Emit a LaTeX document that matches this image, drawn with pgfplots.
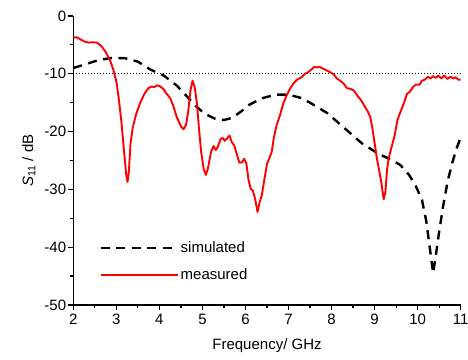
\documentclass[border=0pt]{standalone}
\usepackage{fontspec}
\setmainfont{Liberation Sans}
\usepackage{pgfplots}
\pgfplotsset{compat=1.18}

\begin{document}
\begin{tikzpicture}
\begin{axis}[
  name=ax,
  scale only axis,
  width=387.4pt, height=289pt,
  xmin=2, xmax=11, ymin=-50, ymax=0,
  axis x line*=bottom, axis y line*=left,
  axis line style={-, line width=1.2pt},
  xtick={2,...,11}, ytick={-50,-40,...,0},
  minor x tick num=1, minor y tick num=1,
  tick align=outside,
  major tick length=5.5pt, minor tick length=3.5pt,
  every tick/.style={line width=1.2pt, black},
  font=\fontsize{15}{18}\selectfont,
  ticklabel style={font=\fontsize{15}{18}\selectfont},
  yticklabel style={inner xsep=1.5pt},
  /pgf/number format/assume math mode=true,
  xlabel={Frequency/ GHz},
  ylabel={\textit{S}\textsubscript{11} / dB},
  xlabel shift=7pt,
  ylabel shift=4pt,
  legend style={draw=none, fill=none, at={(axis cs:2.53,-38.3)}, anchor=north west,
    font=\fontsize{15}{18}\selectfont, row sep=11pt},
  legend cell align=left,
  legend image code/.code={\draw[#1] (0pt,0pt) -- (63pt,0pt);
    \path (0pt,0pt) -- (77pt,0pt);},
  clip=false,
]
% reference level at -10 dB
\addplot[black, line width=0.9pt, dash pattern=on 1pt off 2pt, forget plot]
  coordinates {(2,-10) (11,-10)};

% simulated response
\addplot[black, line width=2.4pt, dash pattern=on 9pt off 6.5pt] coordinates {
(2.0,-9.0) (2.3,-8.3) (2.6,-7.6) (2.9,-7.25) (3.2,-7.3) (3.5,-7.9) (3.8,-9.3)
(4.1,-10.3) (4.4,-12.0) (4.65,-14.0) (4.85,-15.6) (5.05,-16.9) (5.3,-17.8)
(5.5,-18.0) (5.7,-17.6) (5.9,-16.5) (6.1,-15.3) (6.4,-14.2) (6.7,-13.6)
(7.0,-13.6) (7.3,-14.2) (7.5,-15.0) (7.9,-16.8) (8.3,-19.4) (8.7,-22.0)
(9.1,-23.9) (9.4,-24.9) (9.6,-25.8) (9.8,-27.5) (9.95,-29.3) (10.1,-31.8)
(10.2,-35.5) (10.28,-40) (10.36,-44.5) (10.42,-41.5) (10.5,-37.3) (10.6,-32.5)
(10.7,-28.5) (10.8,-25.5) (10.9,-23.0) (11.0,-21.0)
};
\addlegendentry{simulated}

% measured response
\addplot[red, line width=1.9pt, line join=round] coordinates {
(2.0,-3.7) (2.08,-3.7) (2.16,-4.0) (2.25,-4.4) (2.35,-4.6) (2.45,-4.55) (2.55,-4.6)
(2.65,-5.2) (2.75,-6.2) (2.85,-7.6) (2.93,-9.3) (3.0,-11.3) (3.06,-14.5)
(3.12,-18.5) (3.18,-23.5) (3.23,-27.5) (3.26,-28.7) (3.29,-27) (3.33,-22)
(3.38,-19.3) (3.46,-17.0) (3.55,-15.1) (3.65,-13.5) (3.74,-12.5) (3.82,-12.2)
(3.88,-12.3) (3.94,-12.0) (4.0,-12.1) (4.09,-12.6) (4.17,-13.5) (4.25,-14.2)
(4.32,-15.5) (4.4,-17.4) (4.5,-19.1) (4.56,-19.6) (4.62,-18.8) (4.67,-16.5)
(4.72,-13) (4.77,-11.2) (4.82,-12.3) (4.87,-15) (4.92,-19.5) (4.97,-23.5)
(5.03,-26.5) (5.08,-27.5) (5.13,-26.3) (5.2,-23.5) (5.26,-22.5) (5.31,-23.2)
(5.36,-22.6) (5.42,-21.3) (5.47,-21.1) (5.52,-21.6) (5.57,-21.2) (5.63,-20.7)
(5.68,-21.8) (5.74,-22.4) (5.8,-24.0) (5.86,-25.4) (5.92,-25.3) (5.97,-24.7)
(6.02,-25.5) (6.07,-28.3) (6.12,-29.9) (6.17,-30.2) (6.22,-31.5) (6.28,-33.9)
(6.33,-32.2) (6.38,-31.0) (6.44,-28.2) (6.5,-25.6) (6.56,-24.5) (6.61,-23.5)
(6.66,-21) (6.72,-19.0) (6.8,-17.2) (6.88,-15.1) (6.96,-13.7) (7.04,-12.5)
(7.12,-11.6) (7.2,-11.0) (7.3,-10.6) (7.38,-10.0) (7.46,-9.7) (7.54,-9.2)
(7.6,-8.8) (7.66,-8.9) (7.72,-8.8) (7.8,-9.1) (7.88,-9.4) (7.96,-9.7)
(8.05,-10.1) (8.12,-10.8) (8.2,-11.2) (8.28,-11.7) (8.36,-12.5) (8.44,-12.6)
(8.52,-12.9) (8.6,-13.8) (8.68,-14.5) (8.76,-15.5) (8.84,-16.5) (8.9,-17.5)
(8.95,-19.5) (9.0,-22.0) (9.05,-24.5) (9.1,-26.5) (9.16,-29) (9.21,-31.7)
(9.25,-30.5) (9.29,-26.5) (9.33,-24.5) (9.4,-22.5) (9.47,-20.5) (9.53,-18)
(9.6,-16.6) (9.68,-15.1) (9.75,-13.5) (9.82,-13.1) (9.9,-12.2) (9.96,-11.9)
(10.04,-11.9) (10.1,-11.2) (10.17,-11.0) (10.24,-10.5) (10.3,-10.8) (10.36,-10.4)
(10.42,-10.7) (10.48,-10.3) (10.55,-10.8) (10.62,-10.3) (10.69,-10.9) (10.76,-10.5)
(10.82,-10.8) (10.88,-10.6) (10.94,-11.0) (11.0,-11.0)
};
\addlegendentry{measured}
\end{axis}
\pgfresetboundingbox
\path ([shift={(-73.3pt,-54pt)}]ax.south west) rectangle ([shift={(7.3pt,16pt)}]ax.north east);
\end{tikzpicture}
\end{document}
